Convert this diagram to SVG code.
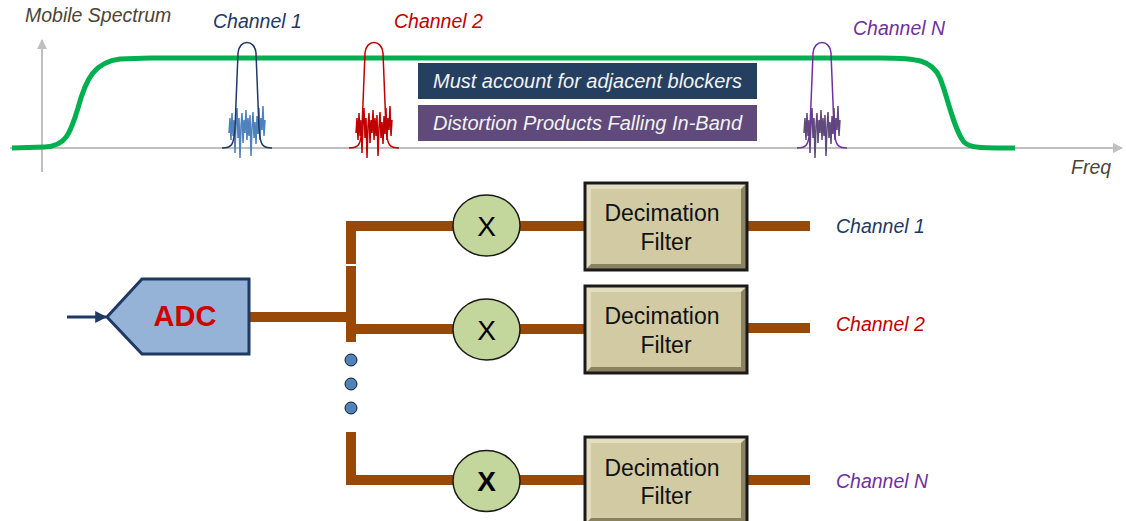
<svg xmlns="http://www.w3.org/2000/svg" width="1126" height="521" viewBox="0 0 1126 521">
<style>
text{font-family:"Liberation Sans",Arial,sans-serif}
.lbl{font-size:19.5px;font-style:italic}
.note{font-size:20px;font-style:italic}
.wire{stroke:#984807;stroke-width:10;fill:none}
.axis{stroke:#bfbfbf;stroke-width:2;fill:none}
.mix{fill:#c3d69b;stroke:#1a1a1a;stroke-width:1.5}
.mx{font-size:28px;text-anchor:middle;fill:#000}
.df{font-size:23px;text-anchor:middle;fill:#111}
.dot{fill:#4f81bd;stroke:#1a1a1a;stroke-width:1}
</style>
<defs>
<marker id="ga" viewBox="0 0 10 10" refX="9" refY="5" markerWidth="5" markerHeight="5" orient="auto" markerUnits="strokeWidth"><path d="M0,0 L10,5 L0,10 z" fill="#bfbfbf"/></marker>
<marker id="na" viewBox="0 0 10 10" refX="9" refY="5" markerWidth="4" markerHeight="4" orient="auto" markerUnits="strokeWidth"><path d="M0,0 L10,5 L0,10 z" fill="#1f3864"/></marker>
<path id="bell" d="M-25,0 C-16,0 -13,-2 -12,-20 L-9,-95 C-8,-109 8,-109 9,-95 L12,-20 C13,-2 16,0 25,0" fill="none"/>
<path id="noise" d="M-18,-15 L-17,-30 L-16,-8 L-15,-35 L-14,-12 L-13,-28 L-12,5 L-11,-25 L-10,-40 L-9,-10 L-8,-30 L-7,10 L-6,-22 L-5,-35 L-4,-5 L-3,-28 L-2,-15 L-1,-38 L0,-8 L1,-30 L2,-12 L3,-33 L4,8 L5,-20 L6,-36 L7,-10 L8,-26 L9,-4 L10,-32 L11,-14 L12,-40 L13,-8 L14,-30 L15,-18 L16,-42 L17,-12 L18,-28" fill="none"/>
<g id="dfbox">
<rect x="0" y="0" width="162" height="87" fill="#e4dec0"/>
<polygon points="162,0 162,87 0,87 6,81 156,81 156,6" fill="#8a8260"/>
<rect x="6" y="6" width="150" height="75" fill="#d2caa3"/>
<rect x="0" y="0" width="162" height="87" fill="none" stroke="#1a1a1a" stroke-width="3"/>
</g>
</defs>

<g id="spectrum">
<line class="axis" x1="42" y1="172" x2="42" y2="40" marker-end="url(#ga)"/>
<line class="axis" x1="10" y1="148" x2="1122" y2="148" marker-end="url(#ga)"/>
<path d="M12,148 L45,147 C65,146 70,135 78,108 C86,78 95,62 120,59 L150,58 L880,58 C918,58 932,60 940,78 C948,98 954,130 964,142 C970,148 980,148 1015,148" fill="none" stroke="#00b050" stroke-width="5"/>
<use href="#noise" transform="translate(247,148)" stroke="#4f81bd" stroke-width="1.5"/>
<use href="#bell" transform="translate(247,148)" stroke="#1f3864" stroke-width="1.5"/>
<use href="#noise" transform="translate(374,148)" stroke="#c00000" stroke-width="1.5"/>
<use href="#bell" transform="translate(374,148)" stroke="#c00000" stroke-width="1.5"/>
<use href="#noise" transform="translate(822,148)" stroke="#604a7b" stroke-width="1.5"/>
<use href="#bell" transform="translate(822,148)" stroke="#7030a0" stroke-width="1.5"/>
<text x="25" y="22" class="lbl" fill="#4a4535">Mobile Spectrum</text>
<text x="213" y="28" class="lbl" fill="#1f3864">Channel 1</text>
<text x="394" y="28" class="lbl" fill="#c00000">Channel 2</text>
<text x="853" y="35" class="lbl" fill="#7030a0">Channel N</text>
<text x="1071" y="174" class="lbl" fill="#4a4535">Freq</text>
</g>

<g id="note-blockers">
<rect x="418" y="63" width="339" height="36" fill="#243f60"/>
<text x="587.5" y="88" class="note" fill="#f2f2f2" text-anchor="middle">Must account for adjacent blockers</text>
</g>
<g id="note-distortion">
<rect x="418" y="105" width="339" height="36" fill="#604a7b"/>
<text x="587.5" y="130" class="note" fill="#f2f2f2" text-anchor="middle">Distortion Products Falling In-Band</text>
</g>

<g id="connectors">
<line x1="67" y1="317" x2="106" y2="317" stroke="#1f3864" stroke-width="3" marker-end="url(#na)"/>
<path class="wire" d="M249,317 H352"/>
<path class="wire" d="M351,221 V264"/>
<path class="wire" d="M351,266 V342"/>
<path class="wire" d="M351,432 V485"/>
<path class="wire" d="M351,226 H453"/>
<path class="wire" d="M351,329 H453"/>
<path class="wire" d="M351,480 H453"/>
<path class="wire" d="M520,226 H585"/>
<path class="wire" d="M520,329 H585"/>
<path class="wire" d="M520,480 H585"/>
<path class="wire" d="M747,226 H810"/>
<path class="wire" d="M747,328 H810"/>
<path class="wire" d="M747,480 H810"/>
<circle class="dot" cx="351" cy="360" r="6"/>
<circle class="dot" cx="351" cy="384" r="6"/>
<circle class="dot" cx="351" cy="408" r="6"/>
</g>

<g id="adc">
<polygon points="107,317 142,279 249,279 249,354 142,354" fill="#95b3d7" stroke="#1f3864" stroke-width="3" stroke-linejoin="miter"/>
<text x="185" y="326" font-size="29" font-weight="bold" fill="#d00000" text-anchor="middle">ADC</text>
</g>

<g id="mixer1">
<ellipse class="mix" cx="486.5" cy="225.5" rx="33.5" ry="30.5"/>
<text x="486.5" y="235.5" class="mx">X</text>
</g>
<g id="mixer2">
<ellipse class="mix" cx="486.5" cy="329.5" rx="33.5" ry="30.5"/>
<text x="486.5" y="339.5" class="mx">X</text>
</g>
<g id="mixerN">
<ellipse class="mix" cx="486.5" cy="481" rx="33.5" ry="30.5"/>
<text x="486.5" y="491" class="mx" font-weight="bold">X</text>
</g>

<g id="filter1">
<use href="#dfbox" transform="translate(585,183)"/>
<text x="662" y="221" class="df">Decimation</text>
<text x="666" y="250" class="df">Filter</text>
</g>
<g id="filter2">
<use href="#dfbox" transform="translate(585,286)"/>
<text x="662" y="324" class="df">Decimation</text>
<text x="666" y="353" class="df">Filter</text>
</g>
<g id="filterN">
<use href="#dfbox" transform="translate(585,437)"/>
<text x="662" y="476" class="df">Decimation</text>
<text x="666" y="504" class="df">Filter</text>
</g>

<g id="outputs">
<text x="836" y="233" class="lbl" fill="#1f3864">Channel 1</text>
<text x="836" y="331" class="lbl" fill="#c00000">Channel 2</text>
<text x="836" y="488" class="lbl" fill="#7030a0">Channel N</text>
</g>
</svg>
